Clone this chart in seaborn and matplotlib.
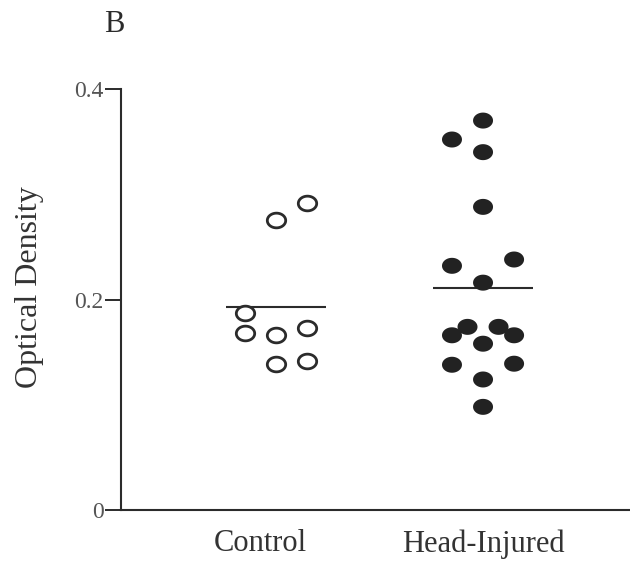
import numpy as np
import pandas as pd
import matplotlib
matplotlib.use("Agg")
import matplotlib.pyplot as plt
import matplotlib.transforms as mtransforms
from matplotlib.path import Path
import seaborn as sns

# Optical density per subject, with the column slot each dot sits in
groups = ["Control", "Head-Injured"]
control_od = [0.276, 0.292, 0.187, 0.168, 0.166, 0.173, 0.139, 0.142]
control_slot = [0, 1, -1, -1, 0, 1, 0, 1]
head_od = [0.370, 0.352, 0.340, 0.288, 0.232, 0.238, 0.216, 0.174,
           0.174, 0.166, 0.166, 0.158, 0.138, 0.139, 0.124, 0.098]
head_slot = [0, -1, 0, 0, -1, 1, 0, -0.5, 0.5, -1, 1, 0, -1, 1, 0, 0]
y_ticks = [0, 0.2, 0.4]
y_tick_labels = ["0", "0.2", "0.4"]

sns.set_style("white")
plt.rcParams["font.family"] = ["Liberation Serif", "DejaVu Serif"]

slot_width = 0.15
df = pd.DataFrame({
    "group": [groups[0]] * len(control_od) + [groups[1]] * len(head_od),
    "od": control_od + head_od,
    "slot": control_slot + head_slot,
})
df["pos"] = df["group"].map({g: i for i, g in enumerate(groups)}) + df["slot"] * slot_width

# slightly wide elliptical dot
t = np.linspace(0, 2 * np.pi, 73)
oval = Path(np.column_stack([1.25 * np.cos(t), np.sin(t)]), closed=True)

fig = plt.figure(figsize=(6.3, 5.64), dpi=100)
ax = fig.add_axes([121 / 630, 1 - 510 / 564, 509 / 630, 421 / 564])

ink = "#2b2b2b"
sns.scatterplot(data=df[df["group"] == groups[0]], x="pos", y="od", ax=ax,
                marker=oval, s=175, facecolor="white", edgecolor=ink,
                linewidth=2.0, legend=False, zorder=3)
sns.scatterplot(data=df[df["group"] == groups[1]], x="pos", y="od", ax=ax,
                marker=oval, s=207, color="#222222", edgecolor="none",
                linewidth=0, legend=False, zorder=3)

# group means
means = df.groupby("group", sort=False)["od"].mean()
for i, g in enumerate(groups):
    ax.hlines(means[g], i - 0.24, i + 0.24, color=ink, lw=1.5, zorder=2)

ax.set_xlim(-0.749, 1.71)
ax.set_ylim(0, 0.4)
ax.set_xticks(range(len(groups)))
ax.set_xticklabels(groups, fontsize=22, color="#333333")
ax.set_yticks(y_ticks)
ax.set_yticklabels(y_tick_labels, fontsize=17, color="#555555")
ax.tick_params(axis="x", length=0, pad=14)
ax.tick_params(axis="y", length=11.5, width=1.4, color=ink, pad=1, left=True)

# nudge the Control label a little to the left
lbl = ax.get_xticklabels()[0]
lbl.set_transform(lbl.get_transform() + mtransforms.ScaledTranslation(-16 / 100, 0, fig.dpi_scale_trans))

ax.set_xlabel("")
ax.set_ylabel("Optical Density", fontsize=23, color="#333333")
ax.yaxis.set_label_coords(-0.152, 0.53)

for side in ["top", "right"]:
    ax.spines[side].set_visible(False)
for side in ["left", "bottom"]:
    ax.spines[side].set_color(ink)
    ax.spines[side].set_linewidth(1.5)

fig.text(114 / 630, 1 - 24 / 564, "B", fontsize=22, color="#2b2b2b",
         ha="center", va="center")

fig.savefig("out.png", dpi=100, facecolor="white")
